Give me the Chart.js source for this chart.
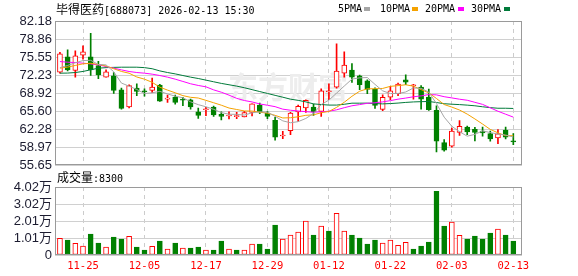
<!DOCTYPE html>
<html>
<head>
<meta charset="utf-8">
<script src="https://cdn.jsdelivr.net/npm/chart.js@4.4.1/dist/chart.umd.min.js"></script>
<style>
  body { margin: 0; background: #fff; }
  #wrap { position: relative; width: 578px; height: 276px; overflow: hidden; }
  #wrap canvas { position: absolute; left: 0; }
  .txt { position: absolute; font-size: 12px; line-height: 14px; color: #000; white-space: nowrap; }
  .cjk { font-family: "Noto Sans CJK SC", sans-serif; font-size: 12px; }
  .mono { font-family: "DejaVu Sans Mono", monospace; font-size: 10px; }
  .sq { position: absolute; width: 6px; height: 4px; top: 7px; }
</style>
</head>
<body>
<div id="wrap">
  <canvas id="kChart" width="578" height="176" style="top:0"></canvas>
  <canvas id="vChart" width="578" height="106" style="top:170px"></canvas>
  <div class="txt" style="left:56px;top:2px"><span class="cjk">毕得医药</span><span class="mono">[688073] 2026-02-13 15:30</span></div>
  <div id="legend"></div>
  <div class="txt" id="volTitle" style="left:57px;top:170px"></div>
</div>
<script>
// 交易日
const dates = ['11-20','11-21','11-24','11-25','11-26','11-27','11-28','12-01','12-02','12-03',
  '12-04','12-05','12-08','12-09','12-10','12-11','12-12','12-15','12-16','12-17',
  '12-18','12-19','12-22','12-23','12-24','12-25','12-26','12-29','12-30','12-31',
  '01-05','01-06','01-07','01-08','01-09','01-12','01-13','01-14','01-15','01-16',
  '01-19','01-20','01-21','01-22','01-23','01-26','01-27','01-28','01-29','01-30',
  '02-02','02-03','02-04','02-05','02-06','02-09','02-10','02-11','02-12','02-13'];
const xTickLabels = ['11-25','12-05','12-17','12-29','01-12','01-22','02-03','02-13'];

// K线 (开 收 高 低)
const openP = [72.76,75.58,73.07,75.88,75.58,73.99,71.85,72.09,69.53,66.35,
  69.83,69.30,69.41,70.38,67.82,68.18,67.76,67.69,65.49,65.86,
  66.35,65.00,64.70,64.58,64.52,65.37,66.71,65.25,63.90,61.03,
  62.01,65.43,66.17,66.35,65.55,69.16,70.02,72.58,73.13,72.09,
  71.18,69.65,65.92,68.18,68.79,71.36,70.26,70.02,68.18,65.73,
  59.81,59.14,61.70,62.68,62.25,61.95,61.46,60.66,62.13,60.05];
const closeP = [76.13,73.19,75.76,76.49,73.19,72.28,72.83,69.41,66.11,70.32,
  69.22,69.16,70.02,67.45,67.94,67.20,67.63,66.35,64.82,65.98,
  64.88,64.64,64.82,64.70,65.31,66.96,65.49,64.64,60.79,61.15,
  65.25,66.47,67.57,65.43,69.34,69.28,72.95,74.05,71.85,70.45,
  69.59,66.65,68.12,69.34,70.57,70.93,70.32,67.81,65.86,60.05,
  58.40,61.95,62.80,61.76,61.70,61.58,60.48,61.40,60.79,59.93];
const highP = [76.43,76.86,76.68,77.59,79.92,74.78,73.19,72.71,69.83,70.45,
  70.63,69.71,71.67,70.51,68.55,68.55,68.12,67.81,66.16,66.29,
  66.53,65.49,65.49,65.37,65.55,66.96,67.08,65.55,64.45,61.89,
  65.37,66.71,67.69,66.90,69.71,70.63,77.96,76.49,74.35,72.21,
  71.36,69.89,68.61,70.14,70.75,72.28,70.51,70.32,69.65,66.59,
  60.36,62.50,63.84,62.86,62.62,62.68,61.95,62.19,62.68,61.46];
const lowP = [72.58,73.01,71.85,75.15,72.16,71.55,71.85,68.86,65.98,66.17,
  68.43,68.37,68.98,67.39,67.21,66.90,66.59,65.98,64.27,64.76,
  64.64,63.96,64.15,64.21,64.52,64.70,65.13,64.21,60.24,60.54,
  61.27,63.72,65.37,64.82,64.64,67.69,69.83,71.85,70.87,69.53,
  68.79,66.11,65.67,67.69,68.43,70.45,67.81,65.98,65.73,58.10,
  58.22,58.95,61.15,61.27,60.11,60.97,60.05,59.63,60.48,59.44];
const prevClose = 72.5; // 11-19 收盘, 决定第一根量柱颜色

// 均线
const ma5 = [73.60,74.00,74.50,74.90,74.95,74.18,74.11,72.84,70.76,70.19,
  69.58,68.84,68.97,69.23,68.76,68.35,68.05,67.31,66.79,66.40,
  65.93,65.33,65.03,65.00,64.87,65.29,65.46,65.42,64.64,63.81,
  63.46,63.66,64.25,65.17,66.81,67.62,68.91,70.21,71.49,71.72,
  71.78,70.52,69.33,68.83,68.85,69.12,69.86,69.79,69.10,66.99,
  64.49,62.81,61.81,60.99,61.32,61.96,61.66,61.38,61.19,60.84];
const ma10 = [73.50,73.70,74.00,74.30,74.40,74.20,73.90,73.40,72.90,72.57,
  71.88,71.48,70.90,70.00,69.47,68.97,68.45,68.14,68.01,67.58,
  67.14,66.69,66.17,65.90,65.63,65.61,65.40,65.22,64.82,64.34,
  64.38,64.56,64.83,64.91,65.31,65.54,66.29,67.23,68.33,69.26,
  69.70,69.72,69.77,70.16,70.29,70.45,70.19,69.56,68.96,67.92,
  66.81,66.34,65.80,65.05,64.16,63.22,62.24,61.60,61.09,61.08];
const ma20 = [74.72,74.60,74.54,74.42,74.29,74.11,73.80,73.50,73.19,72.89,
  72.70,72.58,72.40,72.15,71.85,71.48,71.06,70.63,70.32,70.07,
  69.51,69.08,68.54,67.95,67.55,67.29,66.92,66.68,66.42,65.96,
  65.76,65.62,65.50,65.40,65.47,65.58,65.84,66.23,66.58,66.80,
  67.04,67.14,67.30,67.53,67.80,68.00,68.24,68.40,68.65,68.59,
  68.25,68.03,67.79,67.60,67.22,66.84,66.21,65.58,65.03,64.50];
const ma30 = [72.58,72.60,72.70,72.90,73.20,73.50,73.60,73.65,73.68,73.68,
  73.68,73.60,73.40,73.00,72.70,72.45,72.15,71.85,71.60,71.30,
  71.00,70.70,70.45,70.20,69.90,69.55,69.20,68.85,68.50,68.16,
  67.80,67.58,67.30,66.93,66.81,66.71,66.71,66.86,67.06,67.06,
  67.07,66.99,66.93,66.99,67.08,67.20,67.29,67.34,67.37,67.18,
  66.96,66.87,66.80,66.70,66.58,66.40,66.24,66.13,66.13,66.09];

// 成交量 (股)
const volume = [9800,8800,6900,5300,12400,7100,4700,10600,9400,11000,
  4700,2900,5100,8200,3500,7100,4100,4100,4700,2900,
  2900,8200,3500,2900,2900,6500,6500,3500,17700,9400,
  11800,13500,20000,11800,17100,14100,24700,14100,11800,10000,
  6500,8800,7100,8800,5700,7500,3500,5300,7700,37700,
  17100,19400,11600,9400,11200,9400,13000,15300,11800,8300];

// 刻度
const priceTicks = [55.65,58.97,62.28,65.60,68.92,72.23,75.55,78.86,82.18];
const volTicks = [0,10050,20100,30150,40200];
const volTickLabels = ['0','1.01万','2.01万','3.02万','4.02万'];

const maNames = ['5PMA','10PMA','20PMA','30PMA'];
const maColors = ['#a6a6a6','#f5a200','#ff00ff','#007a3a'];

const RED = '#ff0000', GREEN = '#008000';
const X_MIN = -0.644, X_MAX = 60.13;
const tickIdx = xTickLabels.map(d => dates.indexOf(d));

Chart.defaults.animation = false;
Chart.defaults.font.family = '"Liberation Sans", Arial, "Noto Sans CJK SC"';

// 外框
const framePlugin = {
  id: 'frame',
  afterDatasetsDraw(chart) {
    const { ctx, chartArea: a } = chart;
    ctx.save();
    ctx.strokeStyle = '#9a9a9a';
    ctx.lineWidth = 1;
    ctx.strokeRect(Math.round(a.left) + 0.5, Math.round(a.top) + 0.5,
      Math.round(a.right - a.left) - 1, Math.round(a.bottom - a.top) - 1);
    ctx.restore();
  }
};

// 水印
const watermarkPlugin = {
  id: 'watermark',
  beforeDatasetsDraw(chart) {
    const ctx = chart.ctx;
    ctx.save();
    ctx.fillStyle = '#ededed';
    ctx.font = 'bold 30px "Noto Sans CJK SC"';
    ctx.textBaseline = 'middle';
    ctx.fillText('东方财富', 228, 87);
    ctx.restore();
  }
};

legendInit();
pricePanelInit();
volumePanelInit();

/**
 * 图例与成交量标题
 */
function legendInit() {
  const lg = document.getElementById('legend');
  const textX = [338, 380, 425, 471];
  const sqX = [364, 412, 458, 504];
  maNames.forEach((n, k) => {
    const t = document.createElement('div');
    t.className = 'txt mono';
    t.style.left = textX[k] + 'px';
    t.style.top = '2px';
    t.textContent = n;
    lg.appendChild(t);
    const s = document.createElement('div');
    s.className = 'sq';
    s.style.left = sqX[k] + 'px';
    s.style.background = maColors[k];
    lg.appendChild(s);
  });
  document.getElementById('volTitle').innerHTML =
    '<span class="cjk">成交量</span><span class="mono">:' + volume[volume.length - 1] + '</span>';
}

function xGridScale(showLabels) {
  return {
    type: 'linear',
    min: X_MIN,
    max: X_MAX,
    offset: false,
    afterBuildTicks: s => { s.ticks = tickIdx.map(v => ({ value: v })); },
    afterFit: s => { s.height = showLabels ? 21 : 0; },
    ticks: {
      display: showLabels,
      autoSkip: false,
      maxRotation: 0,
      padding: 5,
      color: RED,
      font: { family: '"DejaVu Sans Mono", monospace', size: 10.5 },
      callback: v => dates[v]
    },
    grid: { color: '#cccccc', drawTicks: false, offset: false },
    border: { display: false, dash: [4, 4] }
  };
}

function yScale(ticks, fmt) {
  return {
    min: ticks[0],
    max: ticks[ticks.length - 1],
    afterFit: s => { s.width = 55; },
    afterBuildTicks: s => { s.ticks = ticks.map(v => ({ value: v })); },
    ticks: { autoSkip: false, padding: 3, color: '#1c1c30', font: { size: 13 }, callback: fmt },
    grid: { color: '#d0d0d0', drawTicks: false },
    border: { display: false }
  };
}

/**
 * K线面板
 */
function pricePanelInit() {
  const up = dates.map((d, i) => closeP[i] >= openP[i]);
  const lineSet = (arr, k) => ({
    type: 'line',
    data: arr.map((v, i) => ({ x: i, y: v })),
    borderColor: maColors[k],
    borderWidth: 1,
    pointRadius: 0,
    fill: false,
    tension: 0,
    order: 0
  });

  new Chart(document.getElementById('kChart'), {
    type: 'bar',
    data: {
      datasets: [
        {
          data: dates.map((d, i) => ({ x: i, y: [lowP[i], highP[i]] })),
          backgroundColor: up.map(u => u ? RED : GREEN),
          borderWidth: 0,
          barThickness: 1,
          grouped: false,
          order: 2
        },
        {
          data: dates.map((d, i) => ({ x: i, y: [openP[i], closeP[i]] })),
          backgroundColor: up.map(u => u ? '#ffffff' : GREEN),
          borderColor: up.map(u => u ? RED : GREEN),
          borderWidth: 1,
          borderSkipped: false,
          barThickness: 5,
          minBarLength: 1,
          grouped: false,
          order: 1
        },
        lineSet(ma5, 0),
        lineSet(ma10, 1),
        lineSet(ma20, 2),
        lineSet(ma30, 3)
      ]
    },
    options: {
      responsive: false,
      devicePixelRatio: 1,
      layout: { padding: { top: 21, bottom: 10, left: 0, right: 56 } },
      plugins: { legend: { display: false }, tooltip: { enabled: false } },
      scales: {
        x: xGridScale(false),
        y: yScale(priceTicks, v => v.toFixed(2))
      }
    },
    plugins: [watermarkPlugin, framePlugin]
  });
}

/**
 * 成交量面板
 */
function volumePanelInit() {
  const rise = dates.map((d, i) => closeP[i] >= (i === 0 ? prevClose : closeP[i - 1]));

  new Chart(document.getElementById('vChart'), {
    type: 'bar',
    data: {
      datasets: [{
        data: dates.map((d, i) => ({ x: i, y: volume[i] })),
        backgroundColor: rise.map(r => r ? '#ffffff' : GREEN),
        borderColor: rise.map(r => r ? RED : GREEN),
        borderWidth: 1,
        borderSkipped: false,
        barThickness: 5
      }]
    },
    options: {
      responsive: false,
      devicePixelRatio: 1,
      layout: { padding: { top: 17, bottom: 0, left: 0, right: 56 } },
      plugins: { legend: { display: false }, tooltip: { enabled: false } },
      scales: {
        x: xGridScale(true),
        y: yScale(volTicks, v => volTickLabels[volTicks.indexOf(v)])
      }
    },
    plugins: [framePlugin]
  });
}
</script>
</body>
</html>
